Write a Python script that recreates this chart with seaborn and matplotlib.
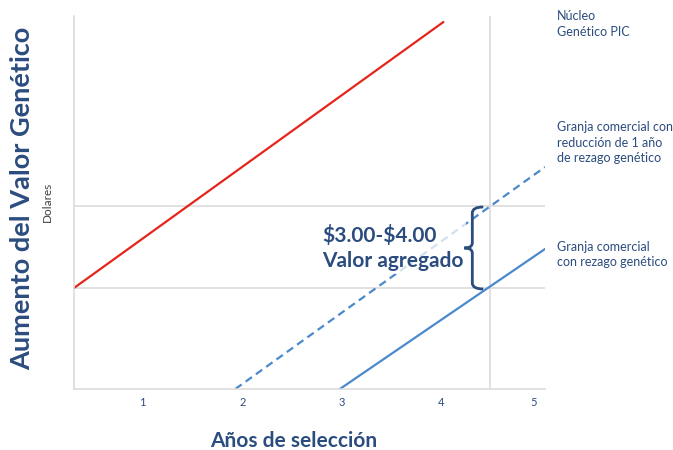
import numpy as np
import pandas as pd
import matplotlib
matplotlib.use("Agg")
import matplotlib.pyplot as plt
from matplotlib.path import Path
from matplotlib.patches import PathPatch
import seaborn as sns

# ---- data (y in arbitrary units) ----
years_nucleo = [0.31, 4.02]
valor_nucleo = [1.01, 3.67]
years_reduccion = [1.93, 5.04]
valor_reduccion = [0.0, 2.22]
years_rezago = [2.98, 5.04]
valor_rezago = [0.0, 1.40]
ref_levels = [1.01, 1.83]
ref_year = 4.49
xtick_labels = ["1", "2", "3", "4", "5"]
series_labels = ["Núcleo\nGenético PIC",
                 "Granja comercial con\nreducción de 1 año\nde rezago genético",
                 "Granja comercial\ncon rezago genético"]

sns.set_style("white")
plt.rcParams["font.family"] = ["Lato", "DejaVu Sans"]

NAVY = "#2B4C7E"
RED = "#E5251B"
BLUE = "#4A89CC"
GRID = "#D9D9D9"

fig = plt.figure(figsize=(6.73, 4.5), dpi=100)
ax = fig.add_axes([74/673, 61/450, (545-74)/673, (389-16)/450])

for yl in ref_levels:
    ax.axhline(yl, color=GRID, lw=1.1, zorder=0)
ax.axvline(ref_year, color=GRID, lw=1.1, zorder=0)

df1 = pd.DataFrame({"x": years_nucleo, "y": valor_nucleo})
df2 = pd.DataFrame({"x": years_reduccion, "y": valor_reduccion})
df3 = pd.DataFrame({"x": years_rezago, "y": valor_rezago})
sns.lineplot(data=df1, x="x", y="y", color=RED, lw=1.6, ax=ax)
sns.lineplot(data=df2, x="x", y="y", color=BLUE, lw=1.6,
             linestyle=(0, (3.5, 2.2)), ax=ax)
sns.lineplot(data=df3, x="x", y="y", color=BLUE, lw=1.6, ax=ax)

ax.set_xlim(0.31, 5.04)
ax.set_ylim(0, 3.73)
ax.set_xticks([1, 2, 3, 4, 4.93])
ax.set_xticklabels(xtick_labels)
ax.set_yticks([])
ax.tick_params(axis="x", length=0, pad=6, labelsize=8, labelcolor=NAVY)
ax.set_xlabel("")
ax.set_ylabel("")
for s in ["top", "right"]:
    ax.spines[s].set_visible(False)
for s in ["left", "bottom"]:
    ax.spines[s].set_color(GRID)
    ax.spines[s].set_linewidth(1.1)

# annotation text with faded background
ax.text(2.80, 1.41, "\\$3.00-\\$4.00\nValor agregado", ha="left", va="center",
        fontsize=15, fontweight="bold", color=NAVY, linespacing=1.3,
        bbox=dict(facecolor="white", edgecolor="none", alpha=0.75, pad=2),
        zorder=5)

# brace
xb, xt, xe = 4.31, 4.23, 4.42
yt, yb = 1.82, 1.00
ym = (yt + yb) / 2
verts = [(xe, yt), (xb, yt), (xb, yt - 0.06),
         (xb, ym + 0.05), (xb, ym), (xt, ym),
         (xb, ym), (xb, ym - 0.05),
         (xb, yb + 0.06), (xb, yb), (xe, yb)]
codes = [Path.MOVETO, Path.CURVE3, Path.CURVE3,
         Path.LINETO, Path.CURVE3, Path.CURVE3,
         Path.CURVE3, Path.CURVE3,
         Path.LINETO, Path.CURVE3, Path.CURVE3]
ax.add_patch(PathPatch(Path(verts, codes), facecolor="none", edgecolor=NAVY,
                       lw=2, zorder=6))

# labels outside axes
fig.text(294/673, 1 - 441/450, "Años de selección", ha="center", va="center",
         fontsize=15, fontweight="bold", color=NAVY)
fig.text(22/673, 1 - 198/450, "Aumento del Valor Genético", ha="center",
         va="center", rotation=90, fontsize=19.5, fontweight="bold", color=NAVY)
fig.text(47/673, 1 - 202/450, "Dolares", ha="center", va="center",
         rotation=90, fontsize=8.5, color="#404040")

lab_x = 557/673
for lab, ytop in zip(series_labels, [10, 121, 241]):
    fig.text(lab_x, 1 - ytop/450, lab, ha="left", va="top", fontsize=9,
             color=NAVY, linespacing=1.35)

fig.savefig("out.png", dpi=100)
